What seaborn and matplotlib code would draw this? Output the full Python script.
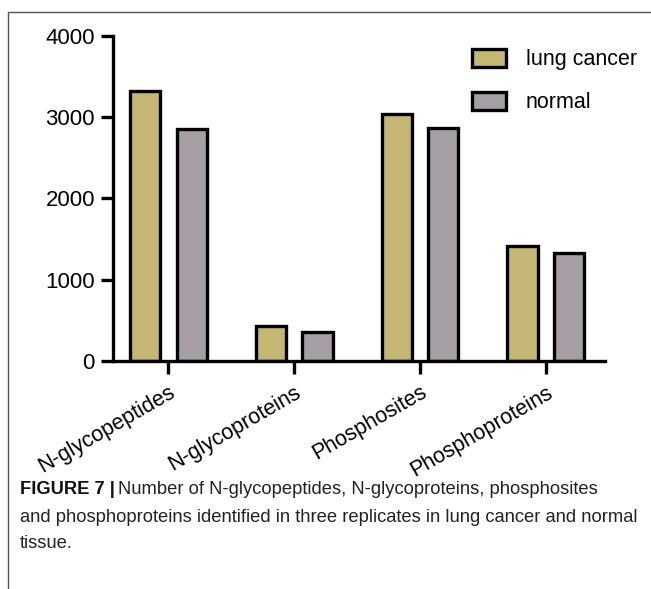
import pandas as pd
import matplotlib.pyplot as plt
import seaborn as sns

# values
categories = ["N-glycopeptides", "N-glycoproteins", "Phosphosites", "Phosphoproteins"]
lung_cancer = [3320, 430, 3035, 1415]
normal = [2850, 360, 2865, 1325]
groups = ["lung cancer", "normal"]

df = pd.DataFrame({
    "category": categories * 2,
    "count": lung_cancer + normal,
    "group": [groups[0]] * 4 + [groups[1]] * 4,
})

sns.set_style("ticks", {"axes.edgecolor": "black", "text.color": "black",
                        "xtick.color": "black", "ytick.color": "black"})
plt.rcParams["font.family"] = ["Liberation Sans", "DejaVu Sans"]

fig = plt.figure(figsize=(6.51, 5.89), dpi=100)
ax = fig.add_axes([0.1736, 0.387, 0.7555, 0.552])

sns.barplot(
    data=df, x="category", y="count", hue="group",
    palette={"lung cancer": "#C4B674", "normal": "#A59FA5"}, saturation=1,
    width=0.74, gap=0.35, edgecolor="black", linewidth=2.4,
    ax=ax,
)

ax.set_ylim(0, 4000)
ax.set_xlim(-0.44, 3.47)
ax.set_yticks([0, 1000, 2000, 3000, 4000])
ax.set_xlabel("")
ax.set_ylabel("")
sns.despine(ax=ax)
for side in ["left", "bottom"]:
    ax.spines[side].set_linewidth(2.4)
ax.tick_params(axis="both", width=2.4, length=9, labelsize=16, pad=4,
               colors="black", labelcolor="black")
ax.tick_params(axis="x", labelsize=15.5, pad=6)
plt.setp(ax.get_xticklabels(), rotation=30, ha="right", rotation_mode="anchor")

leg = ax.legend(
    loc="upper left", bbox_to_anchor=(0.69, 1.02), frameon=False,
    fontsize=15.5, handlelength=1.6, handleheight=0.9, labelspacing=1.0,
    handletextpad=0.9,
)
for h in leg.legend_handles:
    h.set_linewidth(2.4)

# page frame
fig.add_artist(plt.Line2D([8 / 651, 1], [1 - 12 / 589, 1 - 12 / 589], color="#555555", lw=1))
fig.add_artist(plt.Line2D([8 / 651, 8 / 651], [0, 1 - 12 / 589], color="#555555", lw=1))

# caption
cap_size = 13.2
t1 = fig.text(20 / 651, 1 - 490 / 589, "FIGURE 7 |", fontsize=cap_size, fontweight="bold",
              va="center", color="#111111")
fig.canvas.draw()
bb = t1.get_window_extent()
fig.text((bb.x1 + 3) / 651, 1 - 490 / 589,
         "Number of N-glycopeptides, N-glycoproteins, phosphosites",
         fontsize=cap_size, va="center", color="#222222")
fig.text(20 / 651, 1 - 517 / 589,
         "and phosphoproteins identified in three replicates in lung cancer and normal",
         fontsize=cap_size, va="center", color="#222222")
fig.text(20 / 651, 1 - 543 / 589, "tissue.", fontsize=cap_size, va="center", color="#222222")

plt.savefig("out.png", dpi=100)
plt.close()
